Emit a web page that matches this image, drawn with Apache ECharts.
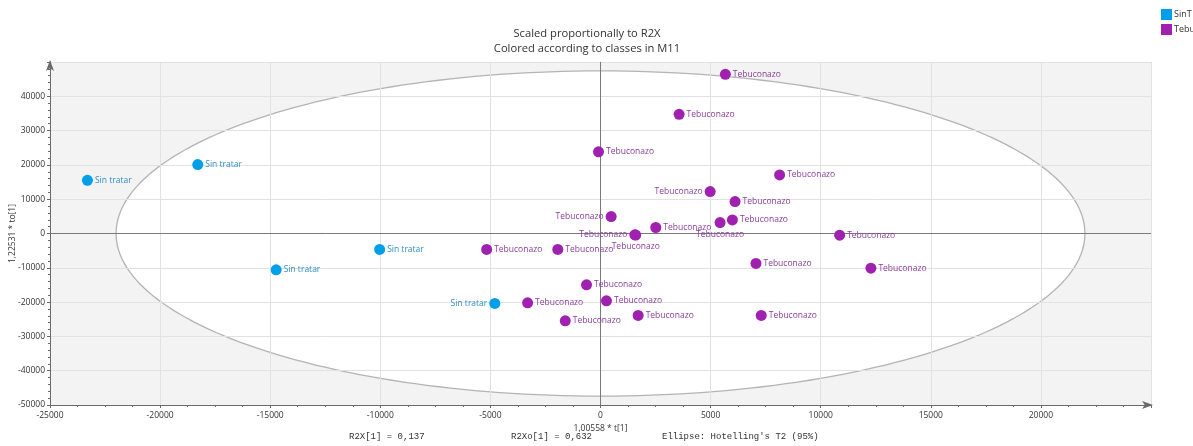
<!DOCTYPE html>
<html>
<head>
<meta charset="utf-8">
<script src="https://cdn.jsdelivr.net/npm/echarts@6/dist/echarts.min.js"></script>
<style>
  html, body { margin: 0; padding: 0; background: #ffffff; }
  #chart { width: 1193px; height: 446px; }
</style>
</head>
<body>
<div id="chart"></div>
<script>
// Scores: predictive component t[1] (scaled) vs orthogonal component to[1] (scaled)
const sinTratarT = [-23300, -18290, -14730, -10030, -4800];
const sinTratarY = [15500, 20100, -10600, -4660, -20400];
const sinTratarLabel = 'Sin tratar';

const tebuT = [5670, 3570, -90, 8135, 4980, 6110, 485, 5990, 5430, 2510, 1560, 1600,
               10860, -5170, -1940, 7060, 12280, -635, 270, -3310, 1710, 7300, -1600];
const tebuY = [46400, 34750, 23800, 17070, 12230, 9320, 4950, 3970, 3200, 1750, -400, -450,
               -500, -4660, -4660, -8740, -10110, -14970, -19630, -20200, -23890, -23890, -25460];
const tebuLabel = 'Tebuconazo';

const classNames = ['SinT', 'Tebu'];

const titleLines = ['Scaled proportionally to R2X', 'Colored according to classes in M11'];
const xAxisName = '1,00558 * t[1]';
const yAxisName = '1,22531 * to[1]';
const footerTexts = ['R2X[1] = 0,137', 'R2Xo[1] = 0,632', "Ellipse: Hotelling's T2 (95%)"];

// Hotelling's T2 (95%) ellipse semi-axes in score units
const ELLIPSE_A = 22000;
const ELLIPSE_B = 47400;

// label placement for points whose names sit away from the default right side
const tebuLabelPlacement = {
  4: { position: 'left' },
  6: { position: 'left' },
  8: { position: 'bottom', offset: [27, -5] },
  10: { position: 'left' },
  11: { position: 'bottom', offset: [0, -4] }
};
const sinLabelPlacement = {
  4: { position: 'left' }
};

const BLUE = '#00a0e9';
const PURPLE = '#a020b0';
const FONT = '"Open Sans", "Noto Sans", sans-serif';
const MONO = '9px "Liberation Mono", "DejaVu Sans Mono", monospace';

function buildPoints(ts, ys, name, placement) {
  return ts.map((t, i) => {
    const item = { value: [t, ys[i]], name: name };
    if (placement[i]) item.label = Object.assign({}, placement[i]);
    return item;
  });
}

const plainNumber = v => String(v);

const chart = echarts.init(document.getElementById('chart'), null, { renderer: 'canvas' });

const option = {
  animation: false,
  backgroundColor: '#ffffff',
  title: {
    text: titleLines.join('\n'),
    left: 582,
    textAlign: 'center',
    top: 21,
    textStyle: { fontFamily: FONT, fontSize: 11.2, fontWeight: 'normal', color: '#333', lineHeight: 15 }
  },
  legend: {
    orient: 'vertical',
    left: 1161,
    top: 9,
    padding: 0,
    itemWidth: 11,
    itemHeight: 11,
    itemGap: 4,
    icon: 'rect',
    data: classNames,
    textStyle: { fontFamily: FONT, fontSize: 9, color: '#333', padding: [0, 0, 0, -3] }
  },
  grid: { left: 50, right: 42, top: 62, bottom: 41, outerBoundsMode: 'none', containLabel: false },
  xAxis: {
    type: 'value',
    min: -25000,
    max: 25000,
    interval: 5000,
    name: xAxisName,
    nameLocation: 'middle',
    nameGap: 19,
    nameMoveOverlap: false,
    nameTextStyle: { fontFamily: FONT, fontSize: 8.5, color: '#333' },
    axisLine: { show: true, onZero: false, symbol: ['none', 'arrow'], symbolSize: [6, 11], symbolOffset: [0, 2], lineStyle: { color: '#6a6a6a', width: 1 } },
    axisTick: { show: true, length: 3, lineStyle: { color: '#6a6a6a' } },
    minorTick: { show: true, splitNumber: 4, length: 2, lineStyle: { color: '#6a6a6a' } },
    axisLabel: { showMaxLabel: false, formatter: plainNumber, fontFamily: FONT, fontSize: 8.5, color: '#333', margin: 6 },
    splitLine: { show: true, lineStyle: { color: '#e2e2e2', width: 1 } }
  },
  yAxis: {
    type: 'value',
    min: -50000,
    max: 50000,
    interval: 10000,
    name: yAxisName,
    nameLocation: 'middle',
    nameGap: 33,
    nameMoveOverlap: false,
    nameTextStyle: { fontFamily: FONT, fontSize: 8.5, color: '#333' },
    axisLine: { show: true, onZero: false, symbol: ['none', 'arrow'], symbolSize: [6, 11], symbolOffset: [0, 2], lineStyle: { color: '#6a6a6a', width: 1 } },
    axisTick: { show: true, length: 3, lineStyle: { color: '#6a6a6a' } },
    minorTick: { show: true, splitNumber: 5, length: 2, lineStyle: { color: '#6a6a6a' } },
    axisLabel: { showMaxLabel: false, formatter: plainNumber, fontFamily: FONT, fontSize: 8.5, color: '#333', margin: 5 },
    splitLine: { show: true, lineStyle: { color: '#e2e2e2', width: 1 } }
  },
  graphic: [
    { type: 'text', left: 349, top: 432, style: { text: footerTexts[0], font: MONO, fill: '#333' } },
    { type: 'text', left: 511, top: 432, style: { text: footerTexts[1], font: MONO, fill: '#333' } },
    { type: 'text', left: 662, top: 432, style: { text: footerTexts[2], font: MONO, fill: '#333' } }
  ],
  series: [
    {
      // shaded plot area with the white confidence ellipse
      type: 'custom',
      z: -1,
      silent: true,
      data: [[0, 0]],
      renderItem: function (params, api) {
        const cs = params.coordSys;
        const pts = [];
        for (let i = 0; i < 240; i++) {
          const a = i / 240 * 2 * Math.PI;
          pts.push(api.coord([ELLIPSE_A * Math.cos(a), ELLIPSE_B * Math.sin(a)]));
        }
        return {
          type: 'group',
          children: [
            { type: 'rect', shape: { x: cs.x, y: cs.y, width: cs.width, height: cs.height }, style: { fill: '#f3f3f3' } },
            { type: 'polygon', shape: { points: pts }, style: { fill: '#ffffff', stroke: '#b4b4b4', lineWidth: 1.3 } }
          ]
        };
      }
    },
    {
      // zero lines through the origin
      type: 'custom',
      z: 1,
      silent: true,
      data: [[0, 0]],
      renderItem: function (params, api) {
        const cs = params.coordSys;
        const o = api.coord([0, 0]);
        return {
          type: 'group',
          children: [
            { type: 'line', shape: { x1: o[0], y1: cs.y, x2: o[0], y2: cs.y + cs.height }, style: { stroke: '#7a7a7a', lineWidth: 1 } },
            { type: 'line', shape: { x1: cs.x, y1: o[1], x2: cs.x + cs.width, y2: o[1] }, style: { stroke: '#7a7a7a', lineWidth: 1 } }
          ]
        };
      }
    },
    {
      name: classNames[0],
      type: 'scatter',
      symbol: 'circle',
      symbolSize: 11,
      itemStyle: { color: BLUE, opacity: 1 },
      label: {
        show: true,
        position: 'right',
        distance: 2,
        formatter: sinTratarLabel,
        fontFamily: FONT,
        fontSize: 8.5,
        color: '#2f8ec4'
      },
      data: buildPoints(sinTratarT, sinTratarY, sinTratarLabel, sinLabelPlacement)
    },
    {
      name: classNames[1],
      type: 'scatter',
      symbol: 'circle',
      symbolSize: 11,
      itemStyle: { color: PURPLE, opacity: 1 },
      label: {
        show: true,
        position: 'right',
        distance: 2,
        formatter: tebuLabel,
        fontFamily: FONT,
        fontSize: 8.5,
        color: '#8a3c9c'
      },
      labelLayout: { hideOverlap: false },
      data: buildPoints(tebuT, tebuY, tebuLabel, tebuLabelPlacement)
    }
  ]
};

chart.setOption(option);
</script>
</body>
</html>
